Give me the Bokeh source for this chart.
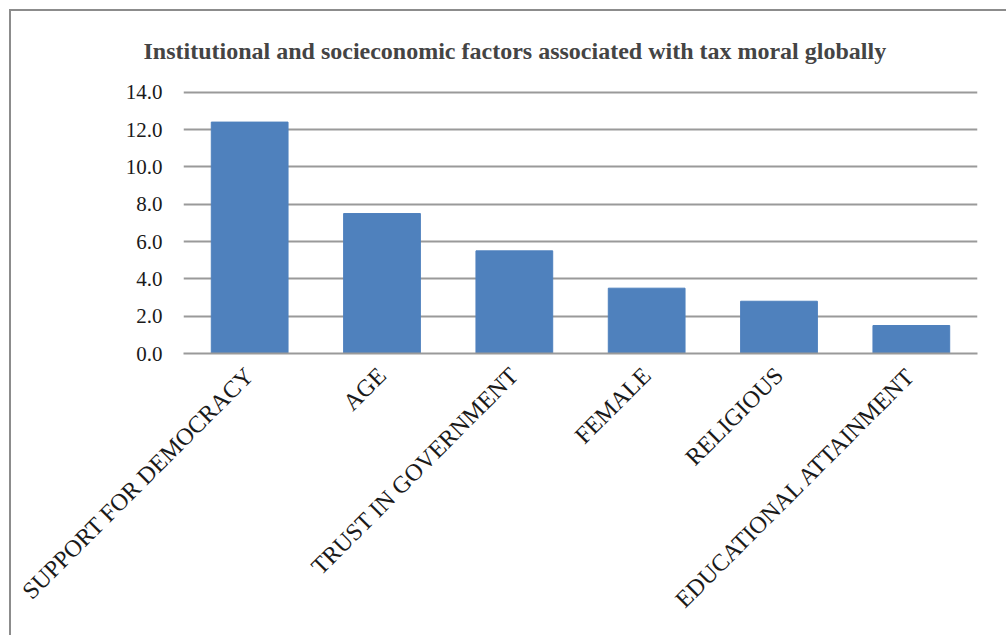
import math
from bokeh.plotting import figure
from bokeh.models import ColumnDataSource, FixedTicker, PrintfTickFormatter
from bokeh.embed import file_html
from bokeh.resources import INLINE

categories = ["SUPPORT FOR DEMOCRACY", "AGE", "TRUST IN GOVERNMENT",
              "FEMALE", "RELIGIOUS", "EDUCATIONAL ATTAINMENT"]
values = [12.4, 7.5, 5.5, 3.5, 2.8, 1.5]
y_ticks = [0, 2, 4, 6, 8, 10, 12, 14]
title_text = "Institutional  and socieconomic factors associated with tax moral globally"

src = ColumnDataSource(dict(cat=categories, val=values))

W, H = 997, 626
p = figure(x_range=categories, y_range=(0, 14.2), width=W, height=H,
           output_backend="svg", toolbar_location=None,
           min_border_left=181 - 9, min_border_right=1006 - 975,
           min_border_top=87 - 9 - 2, min_border_bottom=H - (353 - 9) + 2,
           margin=(9, 0, 0, 9),
           styles={"border-left": "2px solid #8c8c8c", "border-top": "2px solid #8c8c8c",
                   "box-sizing": "border-box"})

p.vbar(x="cat", top="val", width=0.58, source=src, fill_color="#4F81BD",
       line_color="#4F81BD")

p.title.text = title_text
p.title.text_font = "Liberation Serif"
p.title.text_font_style = "bold"
p.title.text_font_size = "24px"
p.title.align = "left"
p.title.offset = 143 - 183
p.title.standoff = 49

p.outline_line_color = None
p.xgrid.grid_line_color = None
p.ygrid.grid_line_color = "#9a9a9a"
p.ygrid.grid_line_width = 2
p.yaxis.ticker = FixedTicker(ticks=y_ticks)
p.yaxis.formatter = PrintfTickFormatter(format="%.1f")
p.yaxis.axis_line_color = None
p.yaxis.major_tick_line_color = None
p.yaxis.minor_tick_line_color = None
p.yaxis.major_label_standoff = 15
p.xaxis.axis_line_color = "#9a9a9a"
p.xaxis.axis_line_width = 2
p.xaxis.major_tick_line_color = None
p.xaxis.minor_tick_line_color = None
p.xaxis.major_label_orientation = math.pi / 4
p.xaxis.major_label_standoff = 12
p.xaxis.major_label_text_font_size = "24px"
p.yaxis.major_label_text_font_size = "21px"
for ax in (p.xaxis, p.yaxis):
    ax.major_label_text_font = "Liberation Serif"
    ax.major_label_text_color = "#1a1a1a"

open("out.html", "w").write(file_html(p, INLINE))
